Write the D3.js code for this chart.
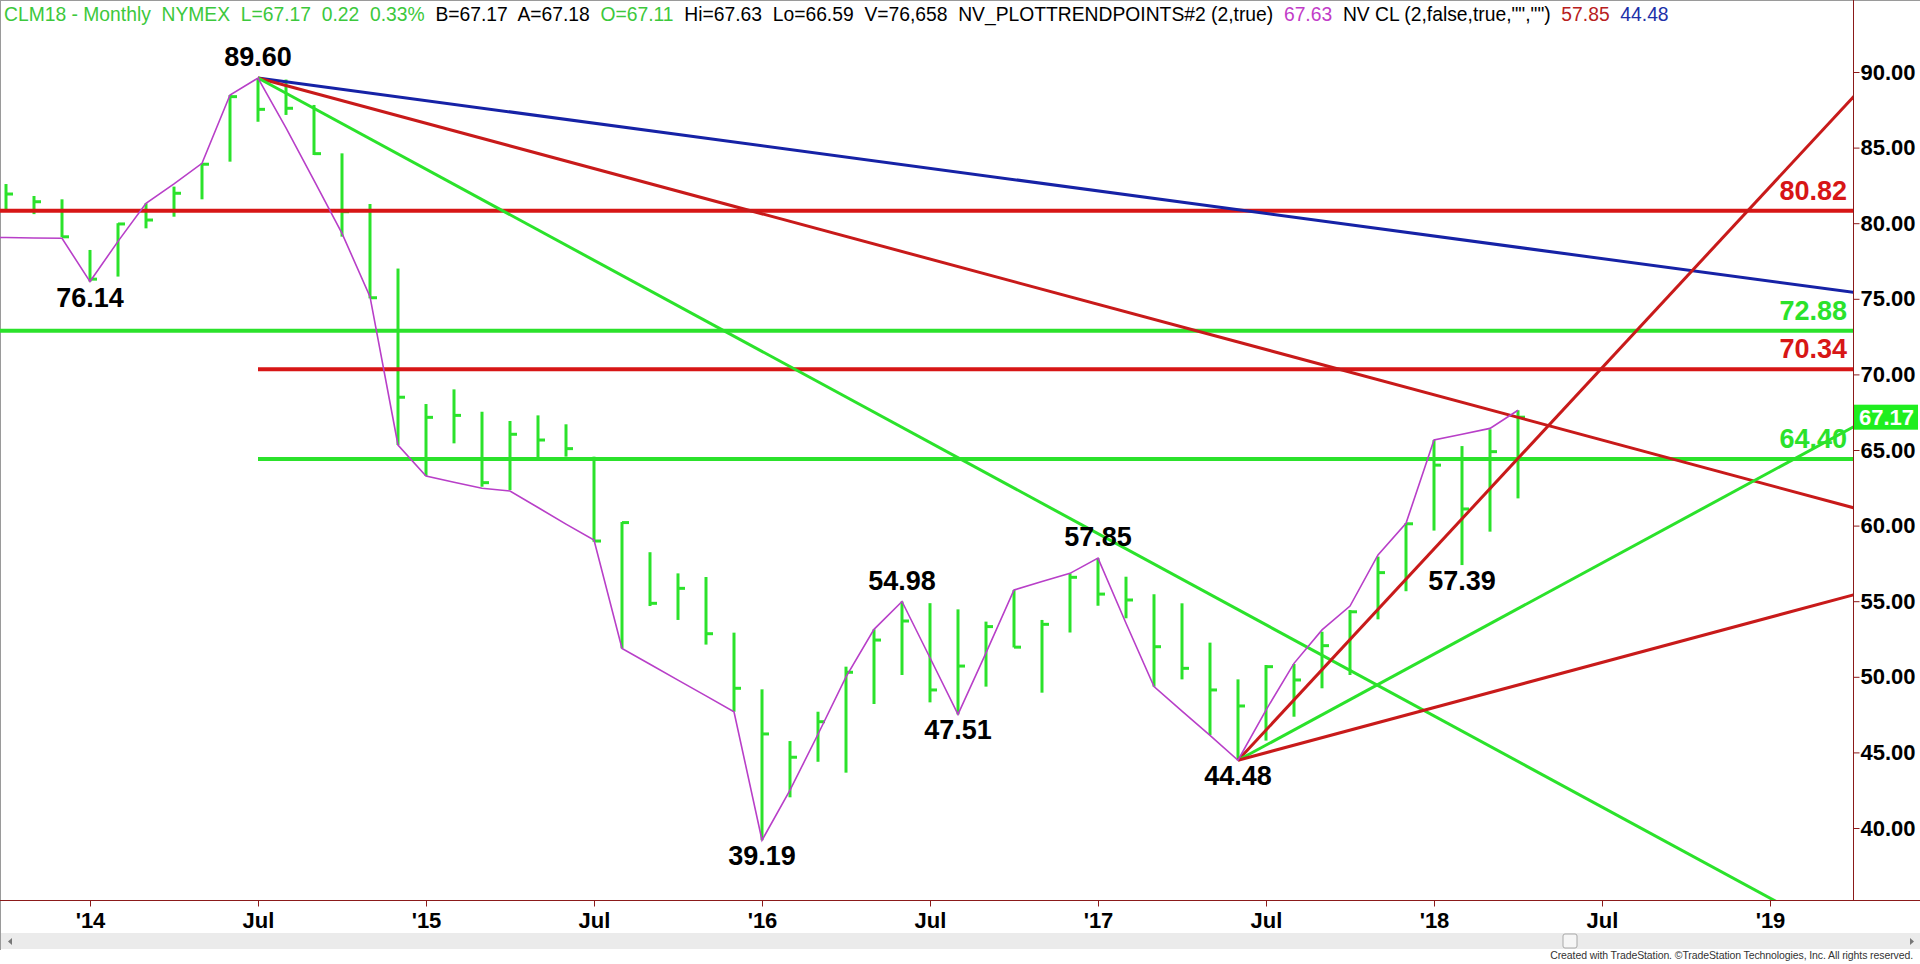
<!DOCTYPE html>
<html><head><meta charset="utf-8">
<script src="https://cdn.jsdelivr.net/npm/d3@7"></script>
<style>html,body{margin:0;padding:0;background:#fff;overflow:hidden} svg{display:block}</style>
</head><body>
<svg id="chart" width="1920" height="964"></svg>
<script>
// ---------------- DATA ----------------
const months = ["2013-10","2013-11","2013-12",
 "2014-01","2014-02","2014-03","2014-04","2014-05","2014-06","2014-07","2014-08","2014-09","2014-10","2014-11","2014-12",
 "2015-01","2015-02","2015-03","2015-04","2015-05","2015-06","2015-07","2015-08","2015-09","2015-10","2015-11","2015-12",
 "2016-01","2016-02","2016-03","2016-04","2016-05","2016-06","2016-07","2016-08","2016-09","2016-10","2016-11","2016-12",
 "2017-01","2017-02","2017-03","2017-04","2017-05","2017-06","2017-07","2017-08","2017-09","2017-10","2017-11","2017-12",
 "2018-01","2018-02","2018-03","2018-04"];
const highs = [82.59,81.80,81.58,
 78.23,80.00,81.32,82.42,83.96,88.48,89.60,89.50,87.82,84.62,81.27,77.00,
 68.04,69.01,67.53,66.92,67.29,66.70,64.56,60.24,58.24,56.84,56.60,52.92,
 49.17,45.75,47.69,50.67,53.14,54.98,54.87,54.46,53.65,55.74,53.76,56.84,
 57.85,56.62,55.46,54.86,52.26,49.83,50.78,50.85,52.98,54.42,57.95,60.17,
 65.66,65.26,66.37,67.63];
const lows = [80.83,80.60,79.07,
 76.14,76.47,79.66,80.43,81.58,84.07,86.71,87.16,84.51,79.11,75.03,65.33,
 63.28,65.44,62.57,62.35,64.29,64.56,58.93,51.88,54.68,53.76,52.13,47.69,
 39.19,42.03,44.38,43.66,48.20,50.12,48.31,47.51,49.35,51.94,48.95,52.93,
 54.70,53.87,49.35,49.83,46.15,44.48,45.78,47.36,49.24,50.12,53.80,55.66,
 59.67,57.39,59.60,61.80];
const closes = [81.93,81.42,79.10,
 76.30,79.95,80.21,81.98,83.90,88.37,87.53,87.60,84.60,80.76,75.07,68.49,
 67.16,67.29,62.84,66.04,65.66,65.09,58.98,60.20,54.86,55.85,52.85,49.24,
 46.22,44.68,47.03,50.30,52.43,53.69,49.13,50.71,53.32,51.96,53.47,56.58,
 55.47,55.08,51.99,50.56,49.13,48.07,50.67,49.79,52.06,54.30,56.89,60.12,
 64.00,61.10,64.89,67.17];
const trendPoints = [79.05,79.02,79.00,
 76.14,78.80,81.32,82.60,83.96,88.48,89.60,86.30,82.84,79.33,75.14,65.33,
 63.28,62.87,62.47,62.29,61.20,60.10,59.05,51.88,50.83,49.78,48.74,47.69,
 39.19,42.50,46.20,50.00,53.14,54.98,51.26,47.51,51.58,55.74,56.30,56.84,
 57.85,53.54,49.35,47.73,46.13,44.48,47.80,50.89,53.10,54.68,58.06,60.15,
 65.66,66.04,66.43,67.63];
const trendLeadMonth = "2013-09";   // line enters from the left edge
const trendLeadValue = 79.05;

const pivotMonths = ["2014-01","2014-07","2016-01","2016-06","2016-08","2017-01","2017-06","2018-02"];
const pivotValues = [76.14, 89.60, 39.19, 54.98, 47.51, 57.85, 44.48, 57.39];
const pivotKinds  = ["low","high","low","high","low","high","low","low"];

const levelValues = [80.82, 72.88, 70.34, 64.40];
const levelStart  = ["2013-09","2013-09","2014-07","2014-07"];
const levelKinds  = ["red","green","red","green"];

const trendStartMonths = ["2014-07","2014-07","2014-07","2017-06","2017-06","2017-06"];
const trendStartValues = [89.60, 89.60, 89.60, 44.48, 44.48, 44.48];
const trendEndMonths   = ["2019-04","2019-04","2019-04","2019-04","2019-04","2019-04"];
const trendEndValues   = [75.42, 61.17, 32.35, 88.40, 66.55, 55.43];
const trendKinds       = ["blue","red","green","red","green","red"];

const xTickMonths = ["2014-01","2014-07","2015-01","2015-07","2016-01","2016-07","2017-01","2017-07","2018-01","2018-07","2019-01"];
const xTickLabels = ["'14","Jul","'15","Jul","'16","Jul","'17","Jul","'18","Jul","'19"];
const yTickValues = [40,45,50,55,60,65,70,75,80,85,90];
const lastPrice = 67.17;

// ---------------- STYLE ----------------
const COL = {green:"#2be22b", red:"#d71616", redTrend:"#c81a1a", blue:"#1622a6",
             magenta:"#b83fc8", axis:"#8b1a1a", text:"#000"};
const kindColor = k => k==="red"?COL.red:(k==="green"?COL.green:COL.blue);
const trendColor = k => k==="red"?COL.redTrend:(k==="green"?COL.green:COL.blue);
const FONT = "'Liberation Sans', Arial, sans-serif";

// ---------------- SCALES ----------------
const mIndex = s => { const [yy,mm] = s.split("-").map(Number); return (yy-2013)*12 + (mm-10); };
const x = d3.scaleLinear().domain([0, 66]).range([6, 1854]);
const y = d3.scaleLinear().domain([40, 90]).range([828, 72]);
const plotRight = 1853, plotBottom = 900;

const svg = d3.select("#chart");
svg.append("rect").attr("width",1920).attr("height",964).attr("fill","#fff");

svg.append("defs").append("clipPath").attr("id","plotclip")
  .append("rect").attr("x",0).attr("y",0).attr("width",plotRight).attr("height",plotBottom);

// frame
svg.append("line").attr("x1",0.5).attr("x2",0.5).attr("y1",0).attr("y2",950).attr("stroke","#9a9a9a");
svg.append("line").attr("x1",0).attr("x2",1920).attr("y1",0.5).attr("y2",0.5).attr("stroke","#9a9a9a");

const plot = svg.append("g").attr("clip-path","url(#plotclip)");

// bars (HLC)
const bars = months.map((m,i)=>({i:mIndex(m), h:highs[i], l:lows[i], c:closes[i]}));
const barG = plot.append("g");
barG.selectAll("line.hl").data(bars).join("line").attr("class","hl")
  .attr("x1",d=>x(d.i)).attr("x2",d=>x(d.i)).attr("y1",d=>y(d.h)).attr("y2",d=>y(d.l))
  .attr("stroke",COL.green).attr("stroke-width",3);
barG.selectAll("line.cl").data(bars).join("line").attr("class","cl")
  .attr("x1",d=>x(d.i)).attr("x2",d=>x(d.i)+7).attr("y1",d=>y(d.c)).attr("y2",d=>y(d.c))
  .attr("stroke",COL.green).attr("stroke-width",3);

// horizontal levels
const levels = levelValues.map((v,i)=>({v, s:mIndex(levelStart[i]), k:levelKinds[i]}));
plot.selectAll("line.lvl").data(levels).join("line").attr("class","lvl")
  .attr("x1",d=>x(d.s)).attr("x2",plotRight).attr("y1",d=>y(d.v)).attr("y2",d=>y(d.v))
  .attr("stroke",d=>kindColor(d.k)).attr("stroke-width",4);

// trend lines
const trends = trendStartMonths.map((m,i)=>({x1:mIndex(m), v1:trendStartValues[i], x2:mIndex(trendEndMonths[i]), v2:trendEndValues[i], k:trendKinds[i]}));
plot.selectAll("line.tr").data(trends).join("line").attr("class","tr")
  .attr("x1",d=>x(d.x1)).attr("y1",d=>y(d.v1)).attr("x2",d=>x(d.x2)).attr("y2",d=>y(d.v2))
  .attr("stroke",d=>trendColor(d.k)).attr("stroke-width",3);

// magenta trend points line
const tp = [[mIndex(trendLeadMonth), trendLeadValue]].concat(months.map((m,i)=>[mIndex(m), trendPoints[i]]));
plot.append("path").datum(tp)
  .attr("d", d3.line().x(d=>x(d[0])).y(d=>y(d[1])))
  .attr("fill","none").attr("stroke",COL.magenta).attr("stroke-width",1.6);

// pivot labels
const pivots = pivotMonths.map((m,i)=>({i:mIndex(m), v:pivotValues[i], k:pivotKinds[i]}));
svg.append("g").selectAll("text").data(pivots).join("text")
  .attr("x",d=>x(d.i)).attr("y",d=>d.k==="high"? y(d.v)-12 : y(d.v)+25)
  .attr("text-anchor","middle")
  .style("font-family",FONT).style("font-weight","bold").style("font-size","27px")
  .attr("fill",COL.text).text(d=>d3.format(".2f")(d.v));

// level labels
svg.append("g").selectAll("text").data(levels).join("text")
  .attr("x",1847).attr("y",d=>y(d.v)-11).attr("text-anchor","end")
  .style("font-family",FONT).style("font-weight","bold").style("font-size","27px")
  .attr("fill",d=>kindColor(d.k)).text(d=>d3.format(".2f")(d.v));

// axes lines
svg.append("line").attr("x1",plotRight+0.5).attr("x2",plotRight+0.5).attr("y1",0).attr("y2",plotBottom).attr("stroke",COL.axis).attr("stroke-width",1);
svg.append("line").attr("x1",0).attr("x2",1920).attr("y1",plotBottom+0.5).attr("y2",plotBottom+0.5).attr("stroke",COL.axis).attr("stroke-width",1);

// y axis
const yAxis = svg.append("g").attr("transform",`translate(${plotRight+0.5},0)`)
  .call(d3.axisRight(y).tickValues(yTickValues).tickFormat(d3.format(".2f")).tickSize(6).tickPadding(1));
yAxis.select(".domain").remove();
yAxis.selectAll(".tick line").attr("stroke",COL.axis);
yAxis.selectAll(".tick text").style("font-family",FONT)
  .style("font-weight","bold").style("font-size","22px").attr("fill","#000");

// x axis
const xAxis = svg.append("g").attr("transform",`translate(0,${plotBottom+0.5})`)
  .call(d3.axisBottom(x).tickValues(xTickMonths.map(mIndex)).tickFormat((d,i)=>xTickLabels[i]).tickSize(6).tickPadding(6));
xAxis.select(".domain").remove();
xAxis.selectAll(".tick line").attr("stroke",COL.axis);
xAxis.selectAll(".tick text").style("font-family",FONT)
  .style("font-weight","bold").style("font-size","22px").attr("fill","#000");

// last price box
const lp = svg.append("g");
lp.append("rect").attr("x",plotRight+1).attr("y",y(lastPrice)-12.5).attr("width",1918-plotRight-1).attr("height",25).attr("fill","#1fee1f");
lp.append("text").attr("x",plotRight+6).attr("y",y(lastPrice)+8).attr("fill","#fff")
  .style("font-family",FONT).style("font-weight","bold").style("font-size","22px")
  .text(d3.format(".2f")(lastPrice));

// header
const header = svg.append("text").attr("x",4).attr("y",21).attr("xml:space","preserve")
  .style("white-space","pre").style("font-family",FONT).style("font-size","19.3px");
const hdrParts = [
  ["CLM18 - Monthly  NYMEX  L=67.17  0.22  0.33%  ","#3cc83c"],
  ["B=67.17  A=67.18  ","#000"],
  ["O=67.11  ","#3cc83c"],
  ["Hi=67.63  Lo=66.59  V=76,658  NV_PLOTTRENDPOINTS#2 (2,true)  ","#000"],
  ["67.63  ","#c23cc8"],
  ["NV CL (2,false,true,\"\",\"\")  ","#000"],
  ["57.85  ","#b82020"],
  ["44.48","#2030a8"]];
header.selectAll("tspan").data(hdrParts).join("tspan").attr("fill",d=>d[1]).text(d=>d[0]);

// scrollbar
svg.append("rect").attr("x",1).attr("y",933).attr("width",1919).attr("height",16).attr("fill","#ebebeb");
svg.append("rect").attr("x",1563).attr("y",934).attr("width",14).attr("height",14).attr("fill","#f6f6f6").attr("stroke","#a8a8a8").attr("rx",2);
svg.append("path").attr("d","M12,938 L8,941.5 L12,945 Z").attr("fill","#777");
svg.append("path").attr("d","M1910,938 L1914,941.5 L1910,945 Z").attr("fill","#777");

// copyright
svg.append("text").attr("x",1913).attr("y",959).attr("text-anchor","end")
  .style("font-family",FONT).style("font-size","10.5px").style("letter-spacing","-0.1px").attr("fill","#333")
  .text("Created with TradeStation. \u00A9TradeStation Technologies, Inc. All rights reserved.");
</script>
</body></html>
